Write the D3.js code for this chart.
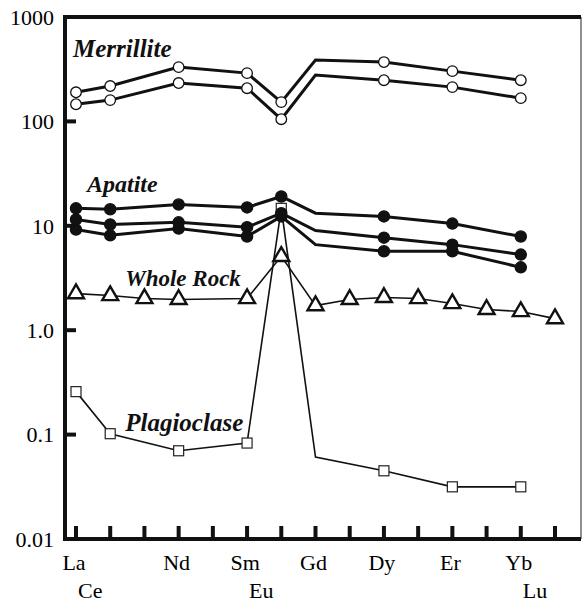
<!DOCTYPE html>
<html>
  <head>
    <meta charset="UTF-8">
    <style>
      body { margin: 0; background: #fff; }
      svg { display: block; }
      svg text { font-family: "Liberation Serif", "Times New Roman", Times, serif; }
    </style>
  </head>
  <body>
    <svg width="582" height="603" id="svgid"></svg>

    <script src="https://d3js.org/d3.v7.min.js"></script>
    <script>
      // REE order along the x axis (Pm, Pr, Tb, Ho, Tm have ticks but no label)
      var elements = ["La", "Ce", "Pr", "Nd", "Pm", "Sm", "Eu", "Gd", "Tb", "Dy", "Ho", "Er", "Tm", "Yb", "Lu"];
      var upperLabels = ["La", "Nd", "Sm", "Gd", "Dy", "Er", "Yb"];
      var lowerLabels = ["Ce", "Eu", "Lu"];
      var yTicks = [0.01, 0.1, 1, 10, 100, 1000];
      var yTickLabels = ["0.01", "0.1", "1.0", "10", "100", "1000"];

      // values, null = not plotted
      var merrillite1 = [190, 218, null, 331, null, 290, 153, 387, null, 370, null, 303, null, 248, null];
      var merrillite2 = [146, 160, null, 233, null, 208, 105, 278, null, 248, null, 213, null, 167, null];
      var apatite1 = [14.7, 14.4, null, 16.0, null, 15.0, 19.1, 13.2, null, 12.3, null, 10.5, null, 7.9, null];
      var apatite2 = [11.5, 10.3, null, 10.8, null, 9.7, 13.2, 9.0, null, 7.7, null, 6.6, null, 5.3, null];
      var apatite3 = [9.2, 8.1, null, 9.4, null, 7.9, 12.3, 6.6, null, 5.7, null, 5.7, null, 4.0, null];
      var wholeRock = [2.24, 2.15, 2.01, 1.97, null, 2.01, 5.1, 1.72, 1.97, 2.06, 2.01, 1.80, 1.58, 1.51, 1.29];
      var plagioclase = [0.258, 0.102, null, 0.070, null, 0.083, 14.7, 0.061, null, 0.045, null, 0.0316, null, 0.0316, null];

      // Gd is only a bend in the line for the mineral patterns
      var noMarker = ["Gd"];

      var series = [
        {values: merrillite1, marker: "open", width: 3, skip: noMarker},
        {values: merrillite2, marker: "open", width: 3, skip: noMarker},
        {values: apatite1, marker: "filled", width: 3, skip: noMarker},
        {values: apatite2, marker: "filled", width: 3, skip: noMarker},
        {values: apatite3, marker: "filled", width: 3, skip: noMarker},
        {values: wholeRock, marker: "triangle", width: 1.6, skip: []},
        {values: plagioclase, marker: "square", width: 1.6, skip: noMarker}
      ];

      var names = [
        {text: "Merrillite", el: "La", value: 414, dx: -3, size: 25},
        {text: "Apatite", el: "La", value: 21.1, dx: 11, size: 24},
        {text: "Whole Rock", el: "Ce", value: 2.65, dx: 15, size: 23},
        {text: "Plagioclase", el: "Ce", value: 0.108, dx: 15, size: 25}
      ];

      var svg = d3.select("svg");
      var plotLeft = 65, plotRight = 581, plotTop = 17, plotBottom = 539;

      var x = d3.scalePoint()
          .domain(elements)
          .range([76, 555]);

      var y = d3.scaleLog()
          .domain([0.01, 1000])
          .range([plotBottom, plotTop]);

      // frame
      svg.append("line").attr("x1", plotRight).attr("x2", plotRight).attr("y1", plotTop).attr("y2", plotBottom)
          .attr("stroke", "#555").attr("stroke-width", 1.3);
      svg.append("path")
          .attr("d", "M" + plotRight + "," + plotTop + "H" + plotLeft + "V" + plotBottom + "H" + plotRight)
          .attr("fill", "none").attr("stroke", "#111").attr("stroke-width", 4);

      // y ticks (inward) and labels
      svg.selectAll(".ytick")
        .data(yTicks)
        .enter().append("line")
          .attr("class", "ytick")
          .attr("x1", plotLeft).attr("x2", plotLeft + 11)
          .attr("y1", function(d) { return y(d); })
          .attr("y2", function(d) { return y(d); })
          .attr("stroke", "#111").attr("stroke-width", 4);
      svg.selectAll(".ylabel")
        .data(yTicks)
        .enter().append("text")
          .attr("class", "ylabel")
          .attr("x", 54)
          .attr("y", function(d) { return y(d); })
          .attr("dy", "0.35em")
          .attr("text-anchor", "end")
          .attr("font-size", 22)
          .text(function(d, i) { return yTickLabels[i]; });

      // x ticks (inward) and two rows of labels
      svg.selectAll(".xtick")
        .data(elements)
        .enter().append("line")
          .attr("class", "xtick")
          .attr("x1", function(d) { return x(d); })
          .attr("x2", function(d) { return x(d); })
          .attr("y1", plotBottom).attr("y2", plotBottom - 13)
          .attr("stroke", "#111").attr("stroke-width", 4);
      svg.selectAll(".xlabel")
        .data(upperLabels)
        .enter().append("text")
          .attr("class", "xlabel")
          .attr("x", function(d) { return x(d) - 2; })
          .attr("y", 570)
          .attr("text-anchor", "middle")
          .attr("font-size", 22)
          .text(function(d) { return d; });
      svg.selectAll(".xlabel2")
        .data(lowerLabels)
        .enter().append("text")
          .attr("class", "xlabel2")
          .attr("x", function(d) { return x(d) - 20; })
          .attr("y", 598)
          .attr("text-anchor", "middle")
          .attr("font-size", 22)
          .text(function(d) { return d; });

      function points(s) {
        return elements.map(function(e, i) { return {el: e, v: s.values[i]}; })
          .filter(function(p) { return p.v !== null; });
      }

      var line = d3.line()
          .x(function(p) { return x(p.el); })
          .y(function(p) { return y(p.v); });

      // lines first, markers on top
      series.forEach(function(s) {
        svg.append("path")
            .attr("d", line(points(s)))
            .attr("fill", "none")
            .attr("stroke", "#111")
            .attr("stroke-width", s.width)
            .attr("stroke-linejoin", "miter");
      });

      var tri = d3.symbol().type(d3.symbolTriangle).size(110);

      series.slice().reverse().forEach(function(s) {
        var pts = points(s).filter(function(p) { return s.skip.indexOf(p.el) < 0; });
        var g = svg.append("g");
        if (s.marker == "open" || s.marker == "filled") {
          g.selectAll("circle").data(pts).enter().append("circle")
              .attr("cx", function(p) { return x(p.el); })
              .attr("cy", function(p) { return y(p.v); })
              .attr("r", s.marker == "open" ? 5.3 : 5.6)
              .attr("fill", s.marker == "open" ? "#fff" : "#111")
              .attr("stroke", "#111")
              .attr("stroke-width", 1.3);
        } else if (s.marker == "square") {
          g.selectAll("rect").data(pts).enter().append("rect")
              .attr("x", function(p) { return x(p.el) - 5; })
              .attr("y", function(p) { return y(p.v) - 5; })
              .attr("width", 10).attr("height", 10)
              .attr("fill", "#fff")
              .attr("stroke", "#222")
              .attr("stroke-width", 1.2);
        } else {
          g.selectAll("path").data(pts).enter().append("path")
              .attr("d", tri)
              .attr("transform", function(p) { return "translate(" + x(p.el) + "," + y(p.v) + ")"; })
              .attr("fill", "#fff")
              .attr("stroke", "#111")
              .attr("stroke-width", 2.4);
        }
      });

      // series names
      svg.selectAll(".name")
        .data(names)
        .enter().append("text")
          .attr("class", "name")
          .attr("x", function(d) { return x(d.el) + d.dx; })
          .attr("y", function(d) { return y(d.value); })
          .attr("font-size", function(d) { return d.size; })
          .attr("font-weight", "bold")
          .attr("font-style", "italic")
          .attr("fill", "#111")
          .text(function(d) { return d.text; });
    </script>
  </body>
</html>
